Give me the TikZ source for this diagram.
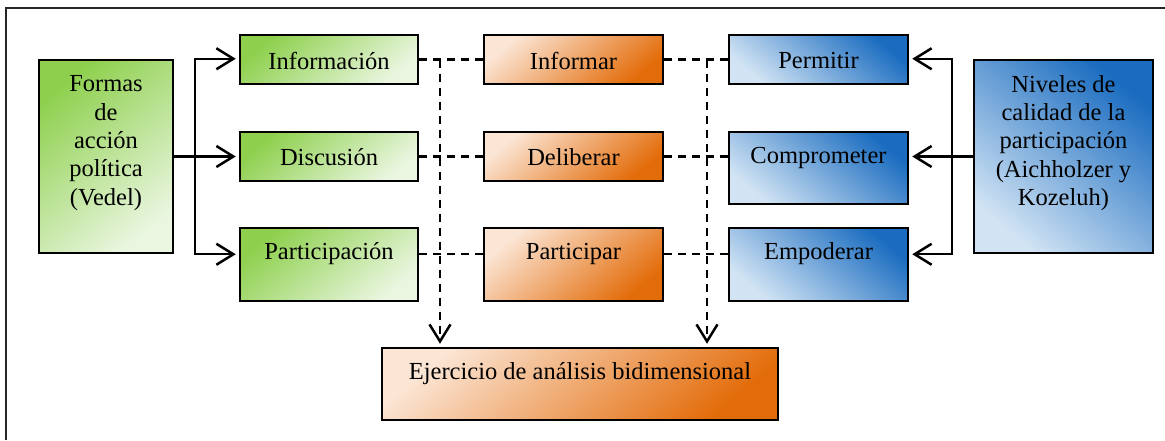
\documentclass[tikz,border=0pt]{standalone}
\usepackage{fontspec}
\setmainfont{Liberation Serif}
\usetikzlibrary{arrows.meta,shadings}
\definecolor{gdark}{HTML}{8ED04E}
\definecolor{glight}{HTML}{EAF6E0}
\definecolor{olight}{HTML}{FBE5D4}
\definecolor{odark}{HTML}{E36C0A}
\definecolor{bdark}{HTML}{1A6CC0}
\definecolor{blight}{HTML}{D2E4F4}
\begin{document}
\begin{tikzpicture}[x=1pt,y=-1pt,
  box/.style={draw=black, line width=2.5pt, rectangle, inner sep=0pt},
  gbox/.style={box, top color=gdark, bottom color=glight, shading angle=40},
  obox/.style={box, top color=olight, bottom color=odark, shading angle=40},
  bbox/.style={box, top color=bdark, bottom color=blight, shading angle=-40},
  lbl/.style={font=\fontsize{24.5}{28.3}\selectfont, align=center, inner sep=0pt},
  arr/.style={line width=2.2pt, -{Straight Barb[length=17pt,width=21pt,line width=2.5pt]}, shorten >=3pt},
  dline/.style={line width=2.2pt, dash pattern=on 8pt off 6pt},
  darr/.style={arr, dash pattern=on 8pt off 6pt}]
\useasboundingbox (0,0) rectangle (1165,440);
\draw[line width=2.2pt, black!85] (6,440) -- (6,8) -- (1165,8);

% left column
\node[gbox, minimum width=134pt, minimum height=193pt] (formas) at (106,156.5) {};
\node[lbl] (tformas) at (106,143) {Formas\\de\\acción\\política\\(Vedel)};

% green
\node[gbox, minimum width=178pt, minimum height=49pt] (info) at (329,59.5) {};
\node[lbl] (tinfo) at (329,60.5) {Información};
\node[gbox, minimum width=178pt, minimum height=49pt] (disc) at (329,156.5) {};
\node[lbl] (tdisc) at (329,157.5) {Discusión};
\node[gbox, minimum width=178pt, minimum height=73pt] (part) at (329,264.5) {};
\node[lbl] (tpart) at (329,254) {Participación};

% orange
\node[obox, minimum width=179pt, minimum height=49pt] (informar) at (573.5,59.5) {};
\node[lbl] (tinformar) at (573.5,60.5) {Informar};
\node[obox, minimum width=179pt, minimum height=49pt] (delib) at (573.5,156.5) {};
\node[lbl] (tdelib) at (573.5,157.5) {Deliberar};
\node[obox, minimum width=179pt, minimum height=73pt] (partic) at (573.5,264.5) {};
\node[lbl] (tpartic) at (573.5,254) {Participar};

% blue
\node[bbox, minimum width=179pt, minimum height=49pt] (permitir) at (818.5,59.5) {};
\node[lbl] (tpermitir) at (818.5,60.5) {Permitir};
\node[bbox, minimum width=179pt, minimum height=72pt] (compr) at (818.5,168) {};
\node[lbl] (tcompr) at (818.5,157.5) {Comprometer};
\node[bbox, minimum width=179pt, minimum height=73pt] (empod) at (818.5,264.5) {};
\node[lbl] (tempod) at (818.5,254) {Empoderar};

% right column
\node[bbox, minimum width=179pt, minimum height=193pt] (niveles) at (1063.5,156.5) {};
\node[lbl] (tniveles) at (1063.5,143) {Niveles de\\calidad de la\\participación\\(Aichholzer y\\Kozeluh)};

% bottom
\node[obox, minimum width=396pt, minimum height=72pt] (ejer) at (580,384) {};
\node[lbl] (tejer) at (580,374) {Ejercicio de análisis bidimensional};

% left connectors
\coordinate (lj) at (195,156.5);
\draw[line width=2.2pt] (formas.east) -- (lj);
\draw[arr] (lj) |- (info.west |- formas.north);
\draw[arr] (lj) -- (disc.west);
\draw[arr] (lj) |- (part.west |- formas.south);

% right connectors
\coordinate (rj) at (952,156.5);
\draw[line width=2.2pt] (niveles.west) -- (rj);
\draw[arr] (rj) |- (permitir.east |- niveles.north);
\draw[arr] (rj) -- (compr.east |- niveles.west);
\draw[arr] (rj) |- (empod.east |- niveles.south);

% dashed horizontals
\draw[dline] (info.east) -- (informar.west);
\draw[dline] (disc.east) -- (delib.west);
\draw[dline] (part.east |- formas.south) -- (partic.west |- formas.south);
\draw[dline] (informar.east) -- (permitir.west);
\draw[dline] (delib.east) -- (compr.west |- delib.east);
\draw[dline] (partic.east |- formas.south) -- (empod.west |- formas.south);

% dashed verticals
\coordinate (vl) at (440,59.5);
\coordinate (vr) at (707,59.5);
\draw[darr] (vl) -- (vl |- ejer.north);
\draw[darr] (vr) -- (vr |- ejer.north);
\end{tikzpicture}
\end{document}
